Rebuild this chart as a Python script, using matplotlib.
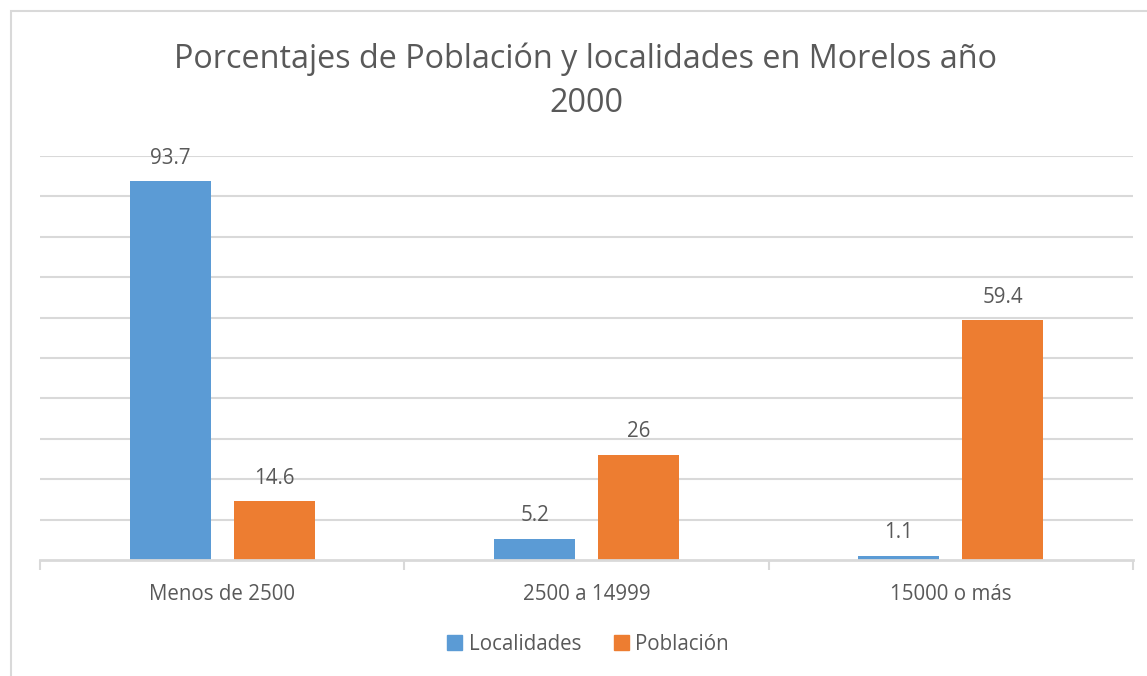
import numpy as np
import matplotlib.pyplot as plt
from matplotlib.patches import Rectangle, Patch

plt.rcParams['font.family'] = ['Open Sans', 'DejaVu Sans']

categorias = ["Menos de 2500", "2500 a 14999", "15000 o más"]
localidades = [93.7, 5.2, 1.1]
poblacion = [14.6, 26, 59.4]
etiquetas_loc = ["93.7", "5.2", "1.1"]
etiquetas_pob = ["14.6", "26", "59.4"]

azul = '#5B9BD5'
naranja = '#ED7D31'
gris_texto = '#595959'
gris_linea = '#D9D9D9'

W, H = 1147, 676
fig = plt.figure(figsize=(W / 100, H / 100), dpi=100)

# chart border (cut off on the right and bottom in the original)
fig.patches.append(Rectangle((11 / W, -0.1), 1.2, 1.1 - 11 / H,
                             transform=fig.transFigure, fill=False,
                             edgecolor=gris_linea, linewidth=1.5))

ax = fig.add_axes([40 / W, 116 / H, (1133 - 40) / W, 404 / H])

x = np.arange(len(categorias))
ancho = 0.222
desp = 0.1425

b1 = ax.bar(x - desp, localidades, ancho, color=azul, label="Localidades", zorder=3)
b2 = ax.bar(x + desp, poblacion, ancho, color=naranja, label="Población", zorder=3)

for rect, txt in zip(b1, etiquetas_loc):
    ax.annotate(txt, (rect.get_x() + rect.get_width() / 2, rect.get_height()),
                xytext=(0, 9), textcoords='offset points', ha='center', va='bottom',
                fontsize=14.8, color=gris_texto)
for rect, txt in zip(b2, etiquetas_pob):
    ax.annotate(txt, (rect.get_x() + rect.get_width() / 2, rect.get_height()),
                xytext=(0, 9), textcoords='offset points', ha='center', va='bottom',
                fontsize=14.8, color=gris_texto)

ax.set_xlim(-0.5, len(categorias) - 0.5)
ax.set_ylim(0, 100)
ax.set_yticks(np.arange(10, 101, 10))
ax.yaxis.grid(True, color=gris_linea, linewidth=1.5, zorder=0)
ax.tick_params(axis='y', left=False, labelleft=False)

ax.set_xticks(x)
ax.set_xticklabels(categorias, fontsize=14.8, color=gris_texto)
ax.tick_params(axis='x', length=0, pad=17)
ax.set_xticks(np.arange(-0.5, len(categorias)), minor=True)
ax.tick_params(axis='x', which='minor', length=7, width=1.5, color=gris_linea)

for s in ['top', 'right', 'left']:
    ax.spines[s].set_visible(False)
ax.spines['bottom'].set_color(gris_linea)
ax.spines['bottom'].set_linewidth(2)
ax.spines['bottom'].set_zorder(4)

fig.text(586 / W, 1 - 81 / H, "Porcentajes de Población y localidades en Morelos año\n2000",
         ha='center', va='center', fontsize=23.3, color=gris_texto, linespacing=1.45)

handles = [Patch(color=azul, label="Localidades"), Patch(color=naranja, label="Población")]
fig.legend(handles=handles, loc='center', bbox_to_anchor=(588 / W, 1 - 644 / H),
           ncol=2, frameon=False, fontsize=14.8, labelcolor=gris_texto,
           handlelength=0.75, handleheight=0.75, handletextpad=0.3, columnspacing=1.6)

fig.savefig('out.png', dpi=100)
